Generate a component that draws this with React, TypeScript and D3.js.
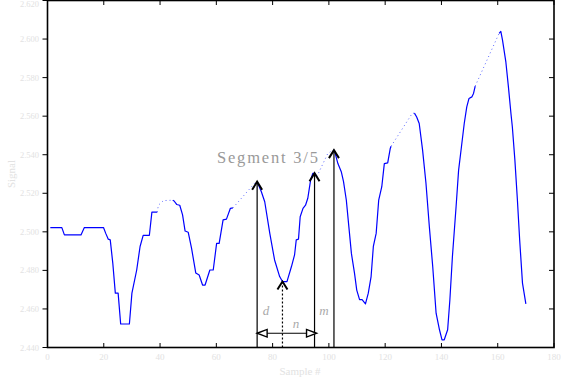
import React from "react";
import * as d3 from "d3";

// ---- data (x: sample index, y: signal in tick units) ----
const seg1: [number, number][] = [[1,3.11],[5.1,3.11],[6.0,2.92],[11.9,2.92],[13.1,3.11],[19.9,3.11],[20.7,2.96],[21.6,2.81],[22.3,2.79],[23.2,2.19],[24.1,1.41],[25.1,1.41],[26.0,0.61],[29.1,0.61],[30.0,1.41],[31.7,2.01],[32.9,2.62],[34.0,2.91],[36.2,2.91],[37.1,3.51],[39.0,3.51]];
const gap1: [number, number][] = [[39.0,3.51],[39.4,3.69],[41.2,3.81],[44.5,3.82]];
const seg2: [number, number][] = [[44.5,3.82],[45.0,3.80],[45.9,3.71],[47.0,3.69],[48.0,3.44],[48.9,3.02],[50.0,2.99],[51.2,2.57],[52.7,1.93],[53.9,1.88],[55.1,1.62],[56.0,1.62],[57.7,2.01],[58.9,2.01],[60.1,2.70],[61.0,2.70],[62.4,3.31],[63.6,3.33],[65.0,3.61],[65.9,3.62]];
const gap2: [number, number][] = [[65.9,3.62],[73.6,4.26],[74.5,4.30]];
const seg3: [number, number][] = [[74.5,4.30],[76.0,4.04],[77.2,3.78],[79.0,2.96],[80.7,2.27],[82.5,1.84],[83.5,1.71],[85.1,1.71],[86.7,2.10],[87.8,2.40],[88.4,2.79],[89.2,2.81],[89.8,3.39],[90.8,3.61],[91.7,3.69],[92.5,3.87],[93.5,4.34],[94.3,4.52],[94.9,4.52],[95.7,4.43]];
const gap3: [number, number][] = [[95.7,4.43],[99.6,5.03],[101.4,5.12]];
const seg4: [number, number][] = [[101.4,5.12],[102.0,5.10],[103.2,4.77],[104.4,4.56],[105.2,4.30],[106.2,3.82],[107.1,3.13],[108.0,2.44],[109.1,1.93],[109.9,1.49],[110.9,1.24],[111.8,1.24],[113.0,1.13],[114.0,1.41],[115.0,1.84],[115.8,2.62],[116.8,2.96],[117.7,3.82],[118.8,4.17],[119.7,4.77],[120.9,4.79],[121.8,5.16],[122.1,5.22]];
const gap4: [number, number][] = [[122.1,5.22],[129.6,6.07],[130.4,6.08]];
const seg5: [number, number][] = [[130.4,6.08],[131.2,5.98],[132.1,5.81],[133.3,5.12],[134.5,4.26],[135.7,3.13],[136.9,2.10],[138.1,0.89],[139.3,0.46],[140.2,0.20],[141.0,0.20],[142.2,0.46],[143.0,1.24],[143.9,2.36],[145.2,3.65],[146.1,4.60],[147.1,5.20],[148.1,5.81],[149.0,6.24],[149.8,6.46],[150.8,6.50],[151.4,6.59],[152.0,6.78]];
const gap5: [number, number][] = [[152.0,6.78],[160.5,8.15]];
const seg6: [number, number][] = [[160.5,8.15],[161.1,8.20],[161.7,7.97],[162.9,7.40],[163.8,6.76],[164.7,6.07],[165.2,5.72],[166.1,4.86],[167.0,3.82],[167.8,2.79],[168.8,1.67],[170.0,1.13]];

const solidSegments = [seg1, seg2, seg3, seg4, seg5, seg6];
const dottedSegments = [gap1, gap2, gap3, gap4, gap5];

const xTicks = [0, 20, 40, 60, 80, 100, 120, 140, 160, 180];
const yTicks = [0, 1, 2, 3, 4, 5, 6, 7, 8, 9];
const yTickLabels = ["2.440", "2.460", "2.480", "2.500", "2.520", "2.540", "2.560", "2.580", "2.600", "2.620"];

// annotation arrows: x position, tip value, dashed?
const arrowX = [74.5, 83.5, 94.9, 101.8];
const arrowTip = [4.30, 1.71, 4.52, 5.12];
const arrowDashed = [false, true, false, false];
const spanFrom = 74.5;
const spanTo = 94.9;
const spanLevel = 0.37;

export default function App() {
  const W = 561, H = 379;
  const x = d3.scaleLinear().domain([0, 180]).range([47.5, 554]);
  const y = d3.scaleLinear().domain([0, 9]).range([347.5, 0.5]);
  const line = d3.line<[number, number]>().x(d => x(d[0])).y(d => y(d[1]));
  const faint = "#e2e2e2";
  const y0 = y(0);
  const ys = y(spanLevel);
  const xa = x(spanFrom), xb = x(spanTo);

  return (
    <svg width={W} height={H} style={{ position: "absolute", left: 0, top: 0, background: "#fff" }}>
      {/* series */}
      {solidSegments.map((s, i) => (
        <path key={"s" + i} d={line(s)!} fill="none" stroke="#0000ff" strokeWidth={1.2} strokeLinejoin="round" />
      ))}
      {dottedSegments.map((s, i) => (
        <path key={"d" + i} d={line(s)!} fill="none" stroke="#3344ff" strokeWidth={1} strokeDasharray="1,3" opacity={0.8} />
      ))}

      {/* annotation arrows */}
      {arrowX.map((ax, i) => {
        const px = x(ax), tip = y(arrowTip[i]);
        return (
          <g key={"a" + i}>
            <line x1={px} x2={px} y1={y0} y2={tip + 1} stroke="#000" strokeWidth={1.2} strokeDasharray={arrowDashed[i] ? "2,2" : undefined} />
            <path d={`M${px - 5},${tip + 8}L${px},${tip}L${px + 5},${tip + 8}`} fill="none" stroke="#000" strokeWidth={2} />
          </g>
        );
      })}
      <line x1={xa} x2={xb} y1={ys} y2={ys} stroke="#000" strokeWidth={1.2} />
      <path d={`M${xa},${ys}L${xa + 10},${ys - 3.8}L${xa + 10},${ys + 3.8}Z`} fill="#fff" stroke="#000" strokeWidth={1.4} />
      <path d={`M${xb + 2},${ys}L${xb - 8},${ys - 3.8}L${xb - 8},${ys + 3.8}Z`} fill="#fff" stroke="#000" strokeWidth={1.4} />
      <text x={266} y={315} fontFamily="Liberation Serif" fontStyle="italic" fontSize={13} fill="#aaa" textAnchor="middle">d</text>
      <text x={296} y={328} fontFamily="Liberation Serif" fontStyle="italic" fontSize={13} fill="#aaa" textAnchor="middle">n</text>
      <text x={324} y={315} fontFamily="Liberation Serif" fontStyle="italic" fontSize={13} fill="#aaa" textAnchor="middle">m</text>
      <text x={217} y={163} fontFamily="Liberation Serif" fontSize={16.5} letterSpacing={1.8} fill="#999">Segment 3/5</text>

      {/* frame */}
      <rect x={47.5} y={0.5} width={554 - 47.5} height={347} fill="none" stroke="#000" strokeWidth={1.6} />
      {/* x ticks: bottom & top inward */}
      {xTicks.map(t => (
        <g key={"xt" + t}>
          <line x1={x(t)} x2={x(t)} y1={347.5} y2={343} stroke="#000" strokeWidth={1} />
          <line x1={x(t)} x2={x(t)} y1={0.5} y2={5} stroke="#000" strokeWidth={1} />
          <text x={x(t)} y={360} fontFamily="Liberation Serif" fontSize={9} fill={faint} textAnchor="middle">{t}</text>
        </g>
      ))}
      {/* y ticks: left outward, right inward */}
      {yTicks.map((t, i) => (
        <g key={"yt" + t}>
          <line x1={42.5} x2={47.5} y1={y(t)} y2={y(t)} stroke="#000" strokeWidth={1} />
          <line x1={554} x2={549} y1={y(t)} y2={y(t)} stroke="#000" strokeWidth={1} />
          <text x={39} y={Math.max(y(t) + 3, 7)} fontFamily="Liberation Serif" fontSize={8.5} fill={faint} textAnchor="end">{yTickLabels[i]}</text>
        </g>
      ))}
      <text x={300} y={375} fontFamily="Liberation Serif" fontSize={11} fill={faint} textAnchor="middle">Sample #</text>
      <text transform="translate(15,174) rotate(-90)" fontFamily="Liberation Serif" fontSize={11} fill={faint} textAnchor="middle">Signal</text>
    </svg>
  );
}
